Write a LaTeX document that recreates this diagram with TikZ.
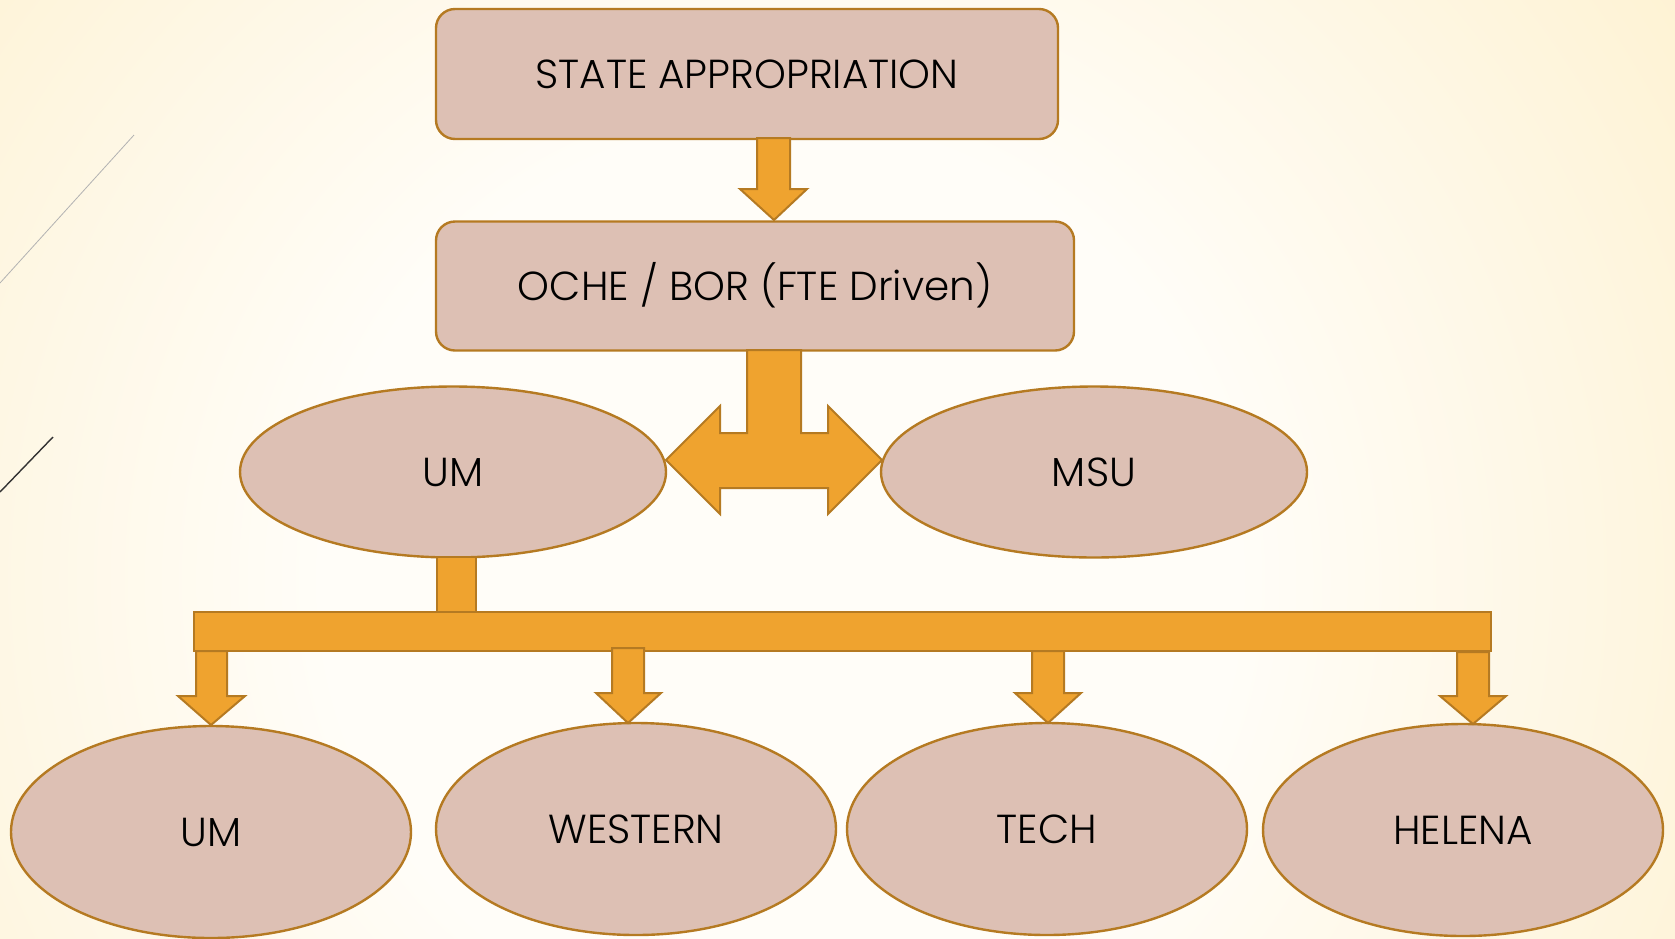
\documentclass[tikz,border=0pt]{standalone}
\usepackage{fontspec}
\IfFontExistsTF{Poppins Light}{\setmainfont{Poppins Light}}{\setmainfont{Poppins}}
\usetikzlibrary{shapes.geometric}
\definecolor{bgin}{HTML}{FFFDF8}
\definecolor{bgout}{HTML}{FCE5A8}
\definecolor{boxfill}{HTML}{DDC0B4}
\definecolor{boxline}{HTML}{B57A22}
\definecolor{arrowfill}{HTML}{EFA32F}
\pgfdeclareradialshading{bgshade}{\pgfpoint{0bp}{0bp}}{color(0bp)=(bgin); color(6bp)=(bgin); color(24bp)=(bgout); color(50bp)=(bgout)}
\tikzset{
  lbl/.style={font=\fontsize{40.5}{46}\selectfont, text=black, text height=28pt, text depth=0pt},
  rbox/.style={lbl, draw=boxline, fill=boxfill, line width=2.4pt, rounded corners=19pt, inner sep=0pt},
  oval/.style={lbl, ellipse, draw=boxline, fill=boxfill, line width=2.4pt, inner sep=0pt},
  blockarrow/.style={draw=boxline, fill=arrowfill, line width=2pt, line join=miter}
}
\begin{document}
\begin{tikzpicture}[x=1pt,y=-1pt]
\useasboundingbox (0,0) rectangle (1675,938);
\begin{scope}
\clip (0,0) rectangle (1675,938);
\shade[shading=bgshade] (780,580) circle (1900);
\end{scope}
% decorative lines
\draw[gray!60, line width=0.8pt] (134,135) -- (0,283);
\draw[black!80, line width=1.4pt] (53,437) -- (0,492);

% nodes
\node[rbox, minimum width=622, minimum height=130] (top) at (747,74) {STATE APPROPRIATION};
\node[rbox, minimum width=638, minimum height=129] (oche) at (755,286) {OCHE / BOR (FTE Driven)};
\node[oval, minimum width=426, minimum height=171] (umA) at (453,472) {UM};
\node[oval, minimum width=426, minimum height=171] (msu) at (1094,472) {MSU};
\node[oval, minimum width=400, minimum height=212] (umB) at (211,832) {UM};
\node[oval, minimum width=400, minimum height=212] (western) at (636,829) {WESTERN};
\node[oval, minimum width=400, minimum height=212] (tech) at (1047,829) {TECH};
\node[oval, minimum width=400, minimum height=212] (helena) at (1463,830) {HELENA};

% arrow state -> oche
\draw[blockarrow] (757,138) -- (790,138) -- (790,189) -- (807,189) -- (774,220) -- (740,189) -- (757,189) -- cycle;

% T double arrow oche -> UM / MSU
\draw[blockarrow] (747,350) -- (801,350) -- (801,433) -- (828,433) -- (828,406) -- (882,460)
  -- (828,514) -- (828,488) -- (720,488) -- (720,514) -- (666,460) -- (720,406) -- (720,433) -- (747,433) -- cycle;

% stem from UM and bar
\draw[blockarrow] (437,557) rectangle (476,612);
\draw[blockarrow] (194,612) rectangle (1491,651);

% down arrows to campuses
\draw[blockarrow] (196,651) -- (227,651) -- (227,696) -- (245,696) -- (211,725) -- (178,696) -- (196,696) -- cycle;
\draw[blockarrow] (612,648) -- (644,648) -- (644,693) -- (661,693) -- (628,723) -- (596,693) -- (612,693) -- cycle;
\draw[blockarrow] (1032,651) -- (1064,651) -- (1064,693) -- (1081,693) -- (1048,723) -- (1015,693) -- (1032,693) -- cycle;
\draw[blockarrow] (1457,652) -- (1489,652) -- (1489,696) -- (1506,696) -- (1473,724) -- (1440,696) -- (1457,696) -- cycle;
\end{tikzpicture}
\end{document}
